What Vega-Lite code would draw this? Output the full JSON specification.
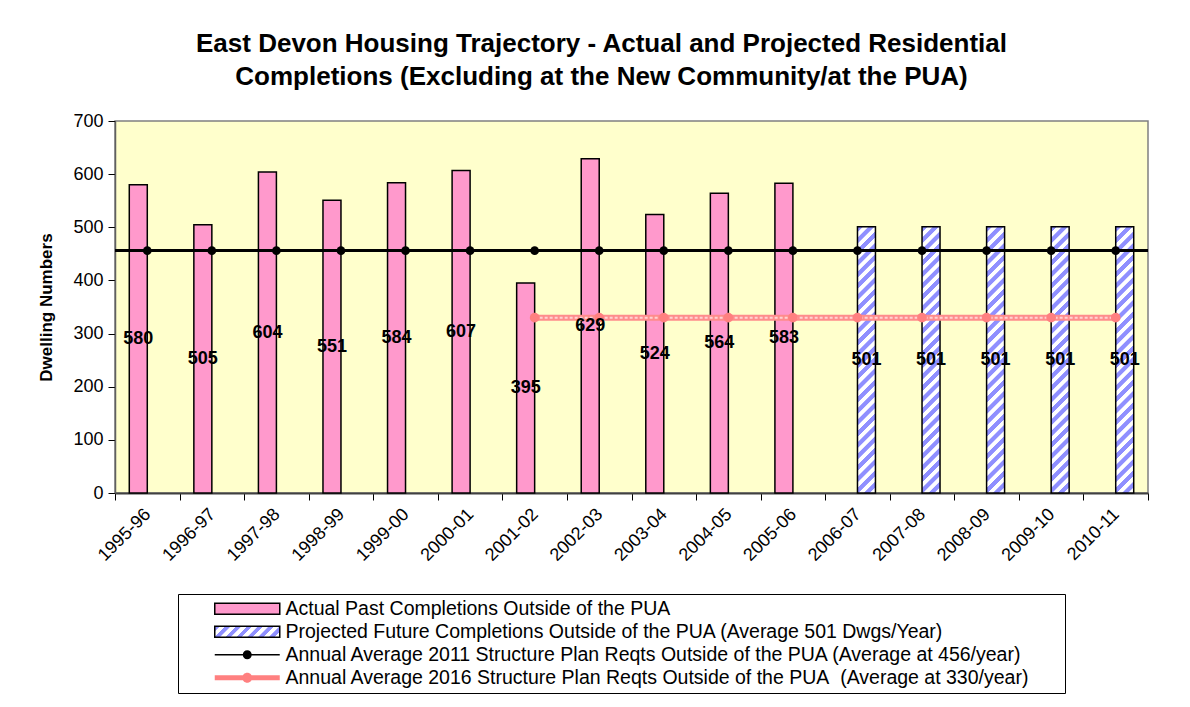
{
"$schema": "https://vega.github.io/schema/vega-lite/v6.json",
"width": 1033,
"height": 372,
"padding": {"left": 37, "top": 31, "right": 5, "bottom": 5},
"background": "white",
"config": {"font": "Liberation Sans", "view": {"fill": "#FFFFCC", "stroke": "#808080", "strokeWidth": 1.5}},
"title": {
  "text": ["East Devon Housing Trajectory - Actual and Projected Residential", "Completions (Excluding at the New Community/at the PUA)"],
  "fontSize": 26, "fontWeight": "bold", "color": "black", "anchor": "middle", "frame": "group", "dx": -30, "offset": 22, "lineHeight": 33
},
"datasets": {
  "actual": [
    {"year": "1995-96", "series": "Actual Past Completions Outside of the PUA", "value": 580},
    {"year": "1996-97", "series": "Actual Past Completions Outside of the PUA", "value": 505},
    {"year": "1997-98", "series": "Actual Past Completions Outside of the PUA", "value": 604},
    {"year": "1998-99", "series": "Actual Past Completions Outside of the PUA", "value": 551},
    {"year": "1999-00", "series": "Actual Past Completions Outside of the PUA", "value": 584},
    {"year": "2000-01", "series": "Actual Past Completions Outside of the PUA", "value": 607},
    {"year": "2001-02", "series": "Actual Past Completions Outside of the PUA", "value": 395},
    {"year": "2002-03", "series": "Actual Past Completions Outside of the PUA", "value": 629},
    {"year": "2003-04", "series": "Actual Past Completions Outside of the PUA", "value": 524},
    {"year": "2004-05", "series": "Actual Past Completions Outside of the PUA", "value": 564},
    {"year": "2005-06", "series": "Actual Past Completions Outside of the PUA", "value": 583}
  ],
  "projected": [
    {"year": "2006-07", "series": "Projected Future Completions Outside of the PUA (Average 501 Dwgs/Year)", "value": 501},
    {"year": "2007-08", "series": "Projected Future Completions Outside of the PUA (Average 501 Dwgs/Year)", "value": 501},
    {"year": "2008-09", "series": "Projected Future Completions Outside of the PUA (Average 501 Dwgs/Year)", "value": 501},
    {"year": "2009-10", "series": "Projected Future Completions Outside of the PUA (Average 501 Dwgs/Year)", "value": 501},
    {"year": "2010-11", "series": "Projected Future Completions Outside of the PUA (Average 501 Dwgs/Year)", "value": 501}
  ],
  "req2011": [
    {"year": "1995-96", "value": 456}, {"year": "1996-97", "value": 456}, {"year": "1997-98", "value": 456}, {"year": "1998-99", "value": 456},
    {"year": "1999-00", "value": 456}, {"year": "2000-01", "value": 456}, {"year": "2001-02", "value": 456}, {"year": "2002-03", "value": 456},
    {"year": "2003-04", "value": 456}, {"year": "2004-05", "value": 456}, {"year": "2005-06", "value": 456}, {"year": "2006-07", "value": 456},
    {"year": "2007-08", "value": 456}, {"year": "2008-09", "value": 456}, {"year": "2009-10", "value": 456}, {"year": "2010-11", "value": 456}
  ],
  "req2016": [
    {"year": "2001-02", "value": 330}, {"year": "2002-03", "value": 330}, {"year": "2003-04", "value": 330}, {"year": "2004-05", "value": 330},
    {"year": "2005-06", "value": 330}, {"year": "2006-07", "value": 330}, {"year": "2007-08", "value": 330}, {"year": "2008-09", "value": 330},
    {"year": "2009-10", "value": 330}, {"year": "2010-11", "value": 330}
  ]
},
"layer": [
  {
    "data": {"name": "actual"},
    "mark": {"type": "bar", "strokeWidth": 1.5},
    "encoding": {
      "x": {"field": "year", "type": "nominal", "sort": null,
        "scale": {"domain": ["1995-96","1996-97","1997-98","1998-99","1999-00","2000-01","2001-02","2002-03","2003-04","2004-05","2005-06","2006-07","2007-08","2008-09","2009-10","2010-11"], "paddingInner": 0, "paddingOuter": 0},
        "axis": {"title": null, "labelAngle": -45, "labelFontSize": 18, "labelColor": "black", "labelPadding": 5, "labelOffset": -6, "tickBand": "extent", "tickSize": 7, "tickColor": "black", "domainColor": "#404040", "domainWidth": 2, "grid": false, "labelOverlap": false}},
      "xOffset": {"field": "series", "type": "nominal",
        "scale": {"domain": ["Actual Past Completions Outside of the PUA", "Projected Future Completions Outside of the PUA (Average 501 Dwgs/Year)"], "paddingInner": 0, "paddingOuter": 0.794}},
      "y": {"field": "value", "type": "quantitative", "scale": {"domain": [0, 700], "nice": false},
        "axis": {"title": "Dwelling Numbers", "titleFontSize": 17, "titleFontWeight": "bold", "titleColor": "black", "titlePadding": 17, "values": [0,100,200,300,400,500,600,700], "labelFontSize": 18, "labelColor": "black", "labelPadding": 5, "tickSize": 7, "tickColor": "black", "domainColor": "#606060", "domainWidth": 1.5, "grid": false}},
      "fill": {"field": "series", "type": "nominal", "legend": null,
        "scale": {"domain": ["Actual Past Completions Outside of the PUA"], "range": ["#FF99CC"]}},
      "stroke": {"field": "series", "type": "nominal", "legend": null,
        "scale": {"domain": ["Actual Past Completions Outside of the PUA"], "range": ["black"]}},
      "opacity": {"field": "series", "type": "nominal",
        "scale": {"type": "ordinal", "domain": ["Actual Past Completions Outside of the PUA", "Projected Future Completions Outside of the PUA (Average 501 Dwgs/Year)", "Annual Average 2011 Structure Plan Reqts Outside of the PUA (Average at 456/year)", "Annual Average 2016 Structure Plan Reqts Outside of the PUA\u00a0 (Average at 330/year)"], "range": [1, 1, 1, 1]},
        "legend": {
          "orient": "none", "legendX": 63, "legendY": 473, "direction": "vertical",
          "title": "\u00a0", "titleOrient": "right", "titlePadding": 31, "titleFontSize": 11,
          "padding": 5, "strokeColor": "black", "fillColor": "white",
          "labelFont": "Liberation Sans", "labelFontSize": 19.5, "labelColor": "black", "labelLimit": 1000, "labelOffset": 83,
          "symbolSize": 100, "symbolStrokeWidth": 1.5, "symbolOffset": 0, "symbolOpacity": 1, "rowPadding": 2,
          "symbolType": {"expr": "datum.index < 2 ? 'M4.4,-1.1H17.4V1.1H4.4Z' : (datum.index == 2 ? 'M4.4,-0.15H17.4V0.15H4.4ZM10,0A0.9,0.9,0,1,1,11.8,0A0.9,0.9,0,1,1,10,0Z' : 'M4.4,-0.5H17.4V0.5H4.4ZM9.9,0A1,1,0,1,1,11.9,0A1,1,0,1,1,9.9,0Z')"},
          "symbolFillColor": {"expr": "datum.index == 0 ? '#FF99CC' : (datum.index == 1 ? {gradient: 'linear', x1: 0, y1: 0, x2: 1.137, y2: 0.1924, stops: [{offset: 0, color: '#8F8FFF'}, {offset: 0.064, color: '#8F8FFF'}, {offset: 0.071, color: '#ffffff'}, {offset: 0.136, color: '#ffffff'}, {offset: 0.143, color: '#8F8FFF'}, {offset: 0.207, color: '#8F8FFF'}, {offset: 0.214, color: '#ffffff'}, {offset: 0.279, color: '#ffffff'}, {offset: 0.286, color: '#8F8FFF'}, {offset: 0.350, color: '#8F8FFF'}, {offset: 0.357, color: '#ffffff'}, {offset: 0.421, color: '#ffffff'}, {offset: 0.429, color: '#8F8FFF'}, {offset: 0.493, color: '#8F8FFF'}, {offset: 0.500, color: '#ffffff'}, {offset: 0.564, color: '#ffffff'}, {offset: 0.571, color: '#8F8FFF'}, {offset: 0.636, color: '#8F8FFF'}, {offset: 0.643, color: '#ffffff'}, {offset: 0.707, color: '#ffffff'}, {offset: 0.714, color: '#8F8FFF'}, {offset: 0.779, color: '#8F8FFF'}, {offset: 0.786, color: '#ffffff'}, {offset: 0.850, color: '#ffffff'}, {offset: 0.857, color: '#8F8FFF'}, {offset: 0.921, color: '#8F8FFF'}, {offset: 0.929, color: '#ffffff'}, {offset: 1, color: '#ffffff'}]} : (datum.index == 2 ? 'black' : '#FF8080'))"},
          "symbolStrokeColor": {"expr": "datum.index < 2 ? 'black' : 'transparent'"}
        }}
    }
  },
  {
    "data": {"name": "projected"},
    "mark": {"type": "bar", "stroke": "black", "strokeWidth": 1.5,
      "fill": {"gradient": "linear", "x1": 0, "y1": 0, "x2": 0.0719, "y2": 1.063, "stops": [
        {"offset": 0, "color": "#8F8FFF"}, {"offset": 0.018, "color": "#8F8FFF"}, {"offset": 0.021, "color": "#ffffff"}, {"offset": 0.037, "color": "#ffffff"},
        {"offset": 0.04, "color": "#8F8FFF"}, {"offset": 0.058, "color": "#8F8FFF"}, {"offset": 0.061, "color": "#ffffff"}, {"offset": 0.077, "color": "#ffffff"},
        {"offset": 0.08, "color": "#8F8FFF"}, {"offset": 0.098, "color": "#8F8FFF"}, {"offset": 0.101, "color": "#ffffff"}, {"offset": 0.117, "color": "#ffffff"},
        {"offset": 0.12, "color": "#8F8FFF"}, {"offset": 0.138, "color": "#8F8FFF"}, {"offset": 0.141, "color": "#ffffff"}, {"offset": 0.157, "color": "#ffffff"},
        {"offset": 0.16, "color": "#8F8FFF"}, {"offset": 0.178, "color": "#8F8FFF"}, {"offset": 0.181, "color": "#ffffff"}, {"offset": 0.197, "color": "#ffffff"},
        {"offset": 0.20, "color": "#8F8FFF"}, {"offset": 0.218, "color": "#8F8FFF"}, {"offset": 0.221, "color": "#ffffff"}, {"offset": 0.237, "color": "#ffffff"},
        {"offset": 0.24, "color": "#8F8FFF"}, {"offset": 0.258, "color": "#8F8FFF"}, {"offset": 0.261, "color": "#ffffff"}, {"offset": 0.277, "color": "#ffffff"},
        {"offset": 0.28, "color": "#8F8FFF"}, {"offset": 0.298, "color": "#8F8FFF"}, {"offset": 0.301, "color": "#ffffff"}, {"offset": 0.317, "color": "#ffffff"},
        {"offset": 0.32, "color": "#8F8FFF"}, {"offset": 0.338, "color": "#8F8FFF"}, {"offset": 0.341, "color": "#ffffff"}, {"offset": 0.357, "color": "#ffffff"},
        {"offset": 0.36, "color": "#8F8FFF"}, {"offset": 0.378, "color": "#8F8FFF"}, {"offset": 0.381, "color": "#ffffff"}, {"offset": 0.397, "color": "#ffffff"},
        {"offset": 0.40, "color": "#8F8FFF"}, {"offset": 0.418, "color": "#8F8FFF"}, {"offset": 0.421, "color": "#ffffff"}, {"offset": 0.437, "color": "#ffffff"},
        {"offset": 0.44, "color": "#8F8FFF"}, {"offset": 0.458, "color": "#8F8FFF"}, {"offset": 0.461, "color": "#ffffff"}, {"offset": 0.477, "color": "#ffffff"},
        {"offset": 0.48, "color": "#8F8FFF"}, {"offset": 0.498, "color": "#8F8FFF"}, {"offset": 0.501, "color": "#ffffff"}, {"offset": 0.517, "color": "#ffffff"},
        {"offset": 0.52, "color": "#8F8FFF"}, {"offset": 0.538, "color": "#8F8FFF"}, {"offset": 0.541, "color": "#ffffff"}, {"offset": 0.557, "color": "#ffffff"},
        {"offset": 0.56, "color": "#8F8FFF"}, {"offset": 0.578, "color": "#8F8FFF"}, {"offset": 0.581, "color": "#ffffff"}, {"offset": 0.597, "color": "#ffffff"},
        {"offset": 0.60, "color": "#8F8FFF"}, {"offset": 0.618, "color": "#8F8FFF"}, {"offset": 0.621, "color": "#ffffff"}, {"offset": 0.637, "color": "#ffffff"},
        {"offset": 0.64, "color": "#8F8FFF"}, {"offset": 0.658, "color": "#8F8FFF"}, {"offset": 0.661, "color": "#ffffff"}, {"offset": 0.677, "color": "#ffffff"},
        {"offset": 0.68, "color": "#8F8FFF"}, {"offset": 0.698, "color": "#8F8FFF"}, {"offset": 0.701, "color": "#ffffff"}, {"offset": 0.717, "color": "#ffffff"},
        {"offset": 0.72, "color": "#8F8FFF"}, {"offset": 0.738, "color": "#8F8FFF"}, {"offset": 0.741, "color": "#ffffff"}, {"offset": 0.757, "color": "#ffffff"},
        {"offset": 0.76, "color": "#8F8FFF"}, {"offset": 0.778, "color": "#8F8FFF"}, {"offset": 0.781, "color": "#ffffff"}, {"offset": 0.797, "color": "#ffffff"},
        {"offset": 0.80, "color": "#8F8FFF"}, {"offset": 0.818, "color": "#8F8FFF"}, {"offset": 0.821, "color": "#ffffff"}, {"offset": 0.837, "color": "#ffffff"},
        {"offset": 0.84, "color": "#8F8FFF"}, {"offset": 0.858, "color": "#8F8FFF"}, {"offset": 0.861, "color": "#ffffff"}, {"offset": 0.877, "color": "#ffffff"},
        {"offset": 0.88, "color": "#8F8FFF"}, {"offset": 0.898, "color": "#8F8FFF"}, {"offset": 0.901, "color": "#ffffff"}, {"offset": 0.917, "color": "#ffffff"},
        {"offset": 0.92, "color": "#8F8FFF"}, {"offset": 0.938, "color": "#8F8FFF"}, {"offset": 0.941, "color": "#ffffff"}, {"offset": 0.957, "color": "#ffffff"},
        {"offset": 0.96, "color": "#8F8FFF"}, {"offset": 0.978, "color": "#8F8FFF"}, {"offset": 0.981, "color": "#ffffff"}, {"offset": 1, "color": "#ffffff"}
      ]}},
    "encoding": {
      "x": {"field": "year", "type": "nominal", "sort": null},
      "xOffset": {"field": "series", "type": "nominal"},
      "y": {"field": "value", "type": "quantitative", "scale": {"domain": [0, 700], "nice": false}, "axis": null}
    }
  },
  {
    "data": {"name": "req2011"},
    "mark": {"type": "rule", "color": "black", "strokeWidth": 2},
    "encoding": {"y": {"field": "value", "type": "quantitative", "scale": {"domain": [0, 700], "nice": false}, "axis": null}}
  },
  {
    "data": {"name": "req2011"},
    "mark": {"type": "point", "filled": true, "color": "black", "size": 75, "opacity": 1},
    "encoding": {
      "x": {"field": "year", "type": "nominal", "sort": null},
      "y": {"field": "value", "type": "quantitative", "scale": {"domain": [0, 700], "nice": false}, "axis": null}
    }
  },
  {
    "data": {"name": "req2016"},
    "mark": {"type": "line", "color": "#FF8C8C", "strokeWidth": 6},
    "encoding": {
      "x": {"field": "year", "type": "nominal", "sort": null},
      "y": {"field": "value", "type": "quantitative", "scale": {"domain": [0, 700], "nice": false}, "axis": null}
    }
  },
  {
    "data": {"name": "req2016"},
    "mark": {"type": "line", "color": "#FFD2D2", "strokeWidth": 2, "strokeDash": [3, 2]},
    "encoding": {
      "x": {"field": "year", "type": "nominal", "sort": null},
      "y": {"field": "value", "type": "quantitative", "scale": {"domain": [0, 700], "nice": false}, "axis": null}
    }
  },
  {
    "data": {"name": "req2016"},
    "mark": {"type": "point", "filled": true, "color": "#FF8080", "size": 95, "opacity": 1},
    "encoding": {
      "x": {"field": "year", "type": "nominal", "sort": null},
      "y": {"field": "value", "type": "quantitative", "scale": {"domain": [0, 700], "nice": false}, "axis": null}
    }
  },
  {
    "data": {"name": "actual"},
    "mark": {"type": "text", "fontSize": 18, "fontWeight": "bold", "color": "black", "align": "center", "baseline": "middle"},
    "encoding": {
      "x": {"field": "year", "type": "nominal", "sort": null},
      "xOffset": {"field": "series", "type": "nominal"},
      "y": {"field": "value", "type": "quantitative", "scale": {"domain": [0, 1400], "nice": false}, "axis": null},
      "text": {"field": "value", "type": "quantitative"}
    }
  },
  {
    "data": {"name": "projected"},
    "mark": {"type": "text", "fontSize": 18, "fontWeight": "bold", "color": "black", "align": "center", "baseline": "middle"},
    "encoding": {
      "x": {"field": "year", "type": "nominal", "sort": null},
      "xOffset": {"field": "series", "type": "nominal"},
      "y": {"field": "value", "type": "quantitative", "scale": {"domain": [0, 1400], "nice": false}, "axis": null},
      "text": {"field": "value", "type": "quantitative"}
    }
  }
],
"resolve": {"scale": {"y": "independent"}}
}
